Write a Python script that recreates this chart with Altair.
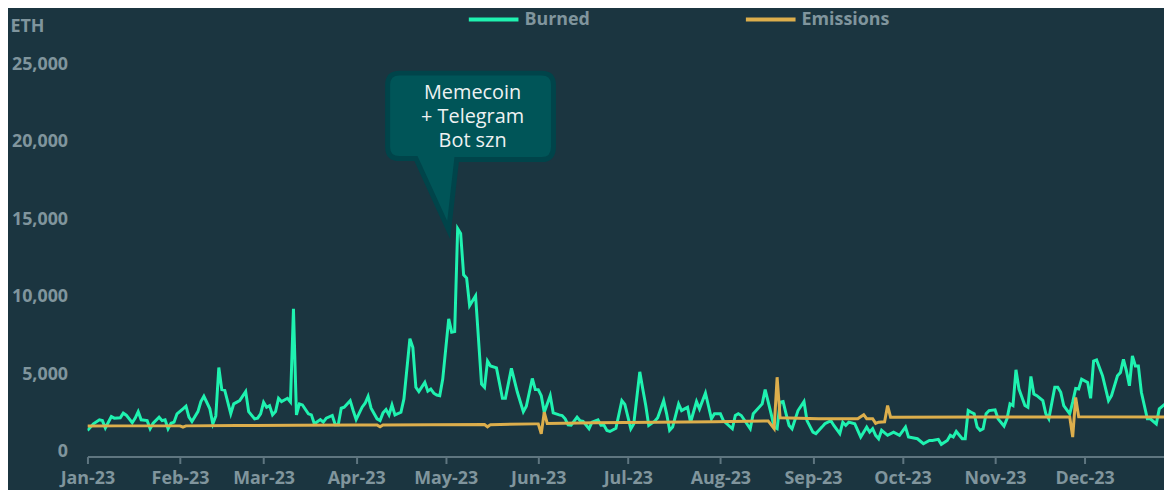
import altair as alt
import pandas as pd

# ---- data (day offset from 2023-01-01, ETH per day) ----
burn_days = [0, 2, 4, 5, 6, 8, 9, 11, 12, 13, 15, 16, 17, 18, 20, 21, 22, 24, 25, 26, 27, 28, 29, 30,
             32, 33, 34, 35, 37, 38, 39, 41, 42, 43, 44, 45, 46, 48, 49, 51, 53, 54, 56, 57, 58, 59,
             60, 61, 62, 63, 64, 65, 67, 68, 69, 70, 71, 72, 74, 75, 76, 78, 79, 80, 82, 83, 84, 85,
             86, 88, 89, 90, 92, 93, 94, 95, 97, 98, 99, 100, 101, 102, 103, 105, 106, 108, 109, 110,
             111, 113, 114, 115, 116, 117, 118, 119, 121, 122, 123, 124, 125, 126, 127, 128, 130, 132,
             133, 134, 135, 137, 139, 140, 142, 144, 146, 147, 149, 150, 151, 152, 153, 155, 156, 158,
             159, 160, 161, 162, 164, 165, 166, 168, 169, 171, 172, 173, 174, 175, 177, 179, 180, 182,
             183, 185, 186, 187, 188, 190, 191, 193, 194, 195, 196, 198, 199, 200, 201, 202, 204, 205,
             207, 209, 210, 212, 213, 216, 217, 218, 219, 222, 223, 226, 227, 229, 230, 231, 232, 233,
             234, 235, 236, 238, 240, 241, 243, 244, 246, 247, 249, 250, 252, 253, 254, 255, 257, 258,
             259, 261, 262, 263, 264, 265, 266, 268, 270, 272, 274, 275, 278, 280, 282, 283, 285, 286,
             288, 289, 290, 291, 293, 294, 295, 296, 297, 298, 299, 300, 301, 302, 304, 305, 307, 308,
             309, 310, 311, 312, 314, 315, 316, 317, 318, 320, 321, 322, 324, 325, 326, 327, 329, 330,
             331, 332, 333, 335, 336, 337, 338, 340, 342, 343, 345, 346, 347, 348, 349, 350, 351, 352,
             353, 355, 356, 358, 359, 361]
burn_vals = [1365, 1795, 2050, 2000, 1520, 2260, 2160, 2180, 2480, 2350, 1860, 2160, 2580, 2050, 2000, 1475,
             1830, 2220, 2000, 2050, 1475, 1830, 1900, 2440, 2760, 2930, 2220, 1940, 2580, 3230, 3570, 2760,
             1795, 2300, 5430, 4000, 3950, 2440, 3080, 3290, 3870, 2580, 2115, 2160, 2440, 3185, 2865, 2970,
             2370, 2580, 3440, 3230, 3440, 3200, 9210, 2370, 3080, 3010, 2440, 2370, 1795, 2070, 1900, 2160,
             2330, 1730, 1730, 2800, 2865, 3290, 2650, 2070, 2865, 3120, 3570, 2800, 2115, 2000, 2500, 2710,
             2370, 3010, 2370, 2540, 3400, 7290, 6710, 4150, 3870, 4470, 3900, 4040, 3770, 3650, 3610, 4680,
             8570, 7710, 7750, 14400, 14080, 11410, 11200, 9420, 10060, 4360, 4150, 5850, 5530, 5400, 3440,
             3440, 5370, 3830, 2580, 2930, 4720, 4000, 4000, 3610, 2540, 3610, 2500, 2370, 2330, 2115, 1730,
             1700, 2220, 2000, 1960, 1475, 1900, 2050, 1700, 1700, 1365, 1300, 1500, 3290, 3050, 1475, 1800,
             5150, 4040, 2970, 1690, 1960, 2180, 3290, 2440, 1370, 1580, 3080, 2650, 2760, 2860, 1880, 3230,
             2760, 3780, 2115, 2440, 2440, 2000, 1475, 2330, 2440, 2330, 1475, 2440, 3080, 4000, 2440, 1580,
             1475, 3190, 3230, 2440, 1690, 1475, 2650, 3230, 2000, 1260, 1160, 1580, 1800, 2000, 1690, 1160,
             1900, 1690, 1900, 1800, 1370, 940, 1580, 1260, 1475, 1050, 830, 1370, 1050, 1260, 1050, 1580,
             940, 830, 510, 720, 720, 790, 470, 720, 1050, 940, 1300, 830, 830, 2650, 2540, 2440, 1580, 1370,
             1475, 2440, 2650, 2700, 2115, 1650, 2115, 3080, 2970, 5280, 4040, 2970, 2860, 4850, 3720, 3610,
             3290, 2440, 2115, 4150, 4150, 3830, 2970, 2440, 3190, 4080, 4040, 4680, 4470, 3440, 5850, 5920,
             4890, 3290, 3610, 4890, 5110, 5960, 5210, 4250, 6170, 5530, 5530, 3830, 2115, 2115, 1790, 2760,
             3080]

emis_days = [0, 10, 31, 32, 33, 50, 70, 90, 97, 98, 99, 115, 133, 134, 135, 150, 151, 152, 153, 154,
             170, 190, 210, 228, 230, 231, 232, 245, 258, 260, 261, 263, 264, 265, 267, 268, 269, 300,
             329, 330, 331, 332, 361]
emis_vals = [1650, 1660, 1660, 1580, 1660, 1680, 1700, 1720, 1720, 1600, 1720, 1740, 1750, 1600, 1740,
             1790, 1790, 1150, 2540, 1820, 1860, 1900, 1930, 1980, 1480, 4800, 2180, 2120, 2120, 2380,
             2120, 2120, 1820, 1900, 1920, 2970, 2220, 2230, 2240, 940, 3500, 2250, 2240]

series_names = ["Burned", "Emissions"]
series_colors = ["#1ff2b0", "#dcae4c"]

callout_text = "Memecoin\n+ Telegram\nBot szn"
callout_tip_day, callout_tip_eth = 121, 14300
callout_text_day, callout_text_eth = 129, 23140

y_ticks = [0, 5000, 10000, 15000, 20000, 25000]

BG = "#1b3540"
GREY = "#80959d"
FS = 18
start = pd.Timestamp("2023-01-01")


def to_dates(days):
    return [(start + pd.Timedelta(days=d)).strftime("%Y-%m-%d") for d in days]


df = pd.concat([
    pd.DataFrame({"date": to_dates(burn_days), "eth": burn_vals, "series": series_names[0]}),
    pd.DataFrame({"date": to_dates(emis_days), "eth": emis_vals, "series": series_names[1]}),
], ignore_index=True)

x_scale = alt.Scale(type="utc",
                    domain=[alt.DateTime(year=2023, month=1, date=1, utc=True),
                            alt.DateTime(year=2023, month=12, date=27, hours=14, utc=True)])
y_scale = alt.Scale(domain=[0, 25000], nice=False)

x_axis = alt.Axis(format="%b-%y", tickCount="month", title=None, grid=False,
                  domainColor="#5f7680", domainWidth=2, tickColor="#5f7680", tickWidth=2,
                  tickSize=7, labelPadding=6, offset=5, labelColor=GREY, labelFlush=False,
                  labelOverlap=False, labelFontSize=FS, labelFontWeight="bold",
                  labelBaseline="top", labelFont="Open Sans")
y_axis = alt.Axis(values=y_ticks, format=",.0f", grid=False, domain=False, ticks=False,
                  labelPadding=20, labelColor=GREY, labelFontSize=FS,
                  labelFontWeight="bold", labelFont="Open Sans",
                  title="ETH", titleAngle=0, titleAlign="left", titleBaseline="middle",
                  titleX=-78, titleY=-38, titleColor=GREY, titleFontSize=FS,
                  titleFontWeight="bold", titleFont="Open Sans")

lines = alt.Chart(df).mark_line(strokeWidth=3, clip=True).encode(
    x=alt.X("date:T", scale=x_scale, axis=x_axis),
    y=alt.Y("eth:Q", scale=y_scale, axis=y_axis),
    color=alt.Color("series:N", scale=alt.Scale(domain=series_names, range=series_colors),
                    legend=alt.Legend(title=None, orient="none", direction="horizontal",
                                      legendX=400, legendY=-54, symbolType="M -5 0 L 5 0",
                                      symbolSize=100, symbolStrokeWidth=4, labelOffset=22,
                                      columnPadding=149, labelColor=GREY, labelFontSize=FS,
                                      labelFontWeight="bold", labelFont="Open Sans")),
    order=alt.Order("series:N"),
)

tip_df = pd.DataFrame({"date": to_dates([callout_tip_day]), "eth": [callout_tip_eth]})
bubble_path = ("M -0.33 -0.72 L -0.495 -0.72 Q -0.615 -0.72 -0.615 -0.84 L -0.615 -1.46 "
               "Q -0.615 -1.58 -0.495 -1.58 L 0.935 -1.58 Q 1.055 -1.58 1.055 -1.46 "
               "L 1.055 -0.84 Q 1.055 -0.71 0.935 -0.71 L 0.08 -0.71 L 0 0 Z")
bubble = alt.Chart(tip_df).mark_point(shape=bubble_path, size=40000, filled=True,
                                      fill="#005558", stroke="#00444a", strokeWidth=5,
                                      fillOpacity=1, strokeOpacity=1, opacity=1).encode(
    x=alt.X("date:T", scale=x_scale, axis=x_axis), y=alt.Y("eth:Q", scale=y_scale, axis=y_axis))

text_df = pd.DataFrame({"date": to_dates([callout_text_day]), "eth": [callout_text_eth],
                        "label": [callout_text]})
label = alt.Chart(text_df).mark_text(lineBreak="\n", lineHeight=24, fontSize=20, color="#eef2f2",
                                     font="Open Sans", align="center", baseline="middle").encode(
    x=alt.X("date:T", scale=x_scale, axis=x_axis), y=alt.Y("eth:Q", scale=y_scale, axis=y_axis),
    text="label:N")

chart = alt.layer(lines, bubble, label).properties(
    width=1084, height=390,
    padding={"left": 80, "top": 55, "right": 0, "bottom": 37},
    autosize=alt.AutoSizeParams(type="none"),
    background=BG,
).configure_view(stroke=None)

chart.save("out.html", embed_options={"renderer": "svg", "actions": False})
